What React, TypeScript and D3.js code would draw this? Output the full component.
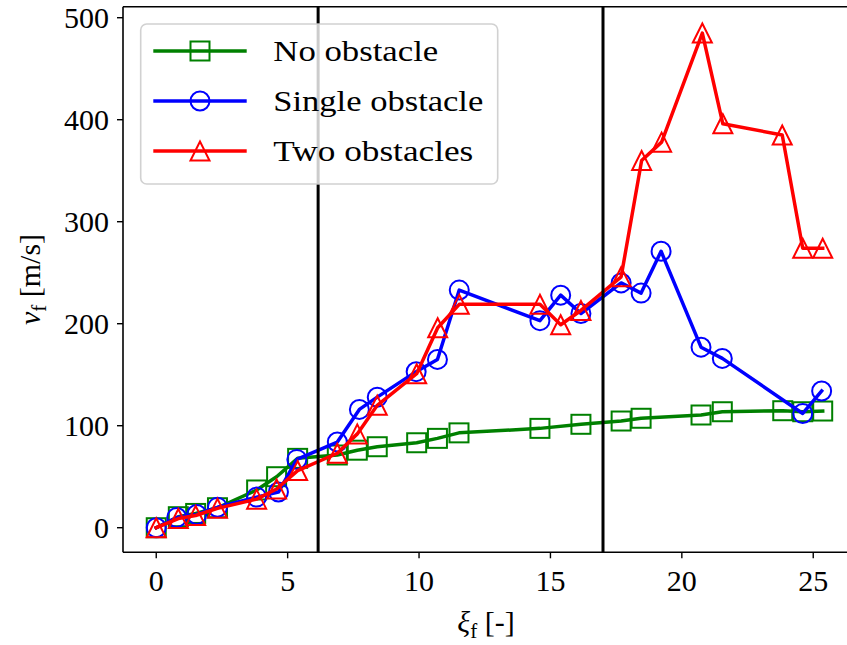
import React from "react";
import * as d3 from "d3";

const greenX = [0, 0.84, 1.5, 2.33, 3.82, 4.58, 5.38, 6.89, 7.65, 8.41, 9.91, 10.7, 11.52, 14.6, 16.16, 17.69, 18.45, 20.73, 21.54, 23.84, 24.6, 25.36];
const greenY = [0, 10.8, 14, 19.6, 37, 50, 68, 71.3, 76, 79.4, 83.3, 87.6, 93, 97.4, 101.4, 104.6, 107.3, 110.5, 113.7, 114.7, 113.7, 114.4];

const blueX = [0, 0.78, 1.54, 2.33, 3.82, 4.65, 5.35, 6.89, 7.73, 8.41, 9.89, 10.7, 11.53, 14.6, 15.39, 16.16, 17.69, 18.45, 19.21, 20.73, 21.54, 24.6, 25.32];
const blueY = [0, 10, 13, 20, 30, 35, 67, 84, 116, 128, 153, 165, 233, 203, 228, 210, 240, 230, 271, 177, 166, 112, 134];

const redX = [0, 0.84, 1.5, 2.33, 3.82, 4.58, 5.38, 6.89, 7.65, 8.41, 9.91, 10.71, 11.53, 14.6, 15.39, 16.16, 17.69, 18.47, 19.23, 20.78, 21.56, 23.82, 24.6, 25.36];
const redY = [0, 9, 12, 19, 28, 38, 56, 73, 92, 120, 151, 196, 219, 219, 199, 213, 246, 360, 378, 485, 396, 385, 274, 274];

const xTicks = [0, 5, 10, 15, 20, 25];
const yTicks = [0, 100, 200, 300, 400, 500];
const vLines = [6.16, 17.0];

const seriesNames = ["No obstacle", "Single obstacle", "Two obstacles"];
const seriesColors = ["#008000", "#0000ff", "#ff0000"];
const seriesMarkers = ["square", "circle", "triangle"];
const legendTextLen = [165, 210, 200];

const W = 847;
const H = 645;
const L = 123, R = 854.5, T = 6.7, B = 552.3;
const FONT = "'Liberation Serif', 'DejaVu Serif', serif";

const x = d3.scaleLinear().domain([-1.265, 26.57]).range([L, R]);
const y = d3.scaleLinear().domain([-24.1, 510.8]).range([B, T]);

const MS = 19;

function Marker({ kind, cx, cy, color }: { kind: string; cx: number; cy: number; color: string }) {
  const h = MS / 2;
  if (kind === "square")
    return <rect x={cx - h} y={cy - h} width={MS} height={MS} fill="none" stroke={color} strokeWidth={2} />;
  if (kind === "circle") return <circle cx={cx} cy={cy} r={h} fill="none" stroke={color} strokeWidth={2} />;
  return (
    <path
      d={`M${cx},${cy - h}L${cx - h},${cy + h}L${cx + h},${cy + h}Z`}
      fill="none"
      stroke={color}
      strokeWidth={2}
      strokeLinejoin="miter"
    />
  );
}

export default function App() {
  const series = [
    { xs: greenX, ys: greenY },
    { xs: blueX, ys: blueY },
    { xs: redX, ys: redY },
  ];
  const line = d3
    .line<[number, number]>()
    .x((d) => x(d[0]))
    .y((d) => y(d[1]));

  return (
    <svg
      width={W}
      height={H}
      style={{ position: "absolute", left: 0, top: 0, background: "#fff" }}
      fontFamily={FONT}
    >
      <rect x={0} y={0} width={W} height={H} fill="#fff" />
      <defs>
        <clipPath id="plotclip">
          <rect x={L} y={T} width={R - L} height={B - T} />
        </clipPath>
      </defs>
      <g clipPath="url(#plotclip)">
        {series.map((s, i) => {
          const pts = s.xs.map((v, j) => [v, s.ys[j]] as [number, number]);
          return (
            <g key={i}>
              <path d={line(pts) || ""} fill="none" stroke={seriesColors[i]} strokeWidth={3.5} strokeLinejoin="round" strokeLinecap="square" />
              {pts.map((p, j) => (
                <Marker key={j} kind={seriesMarkers[i]} cx={x(p[0])} cy={y(p[1])} color={seriesColors[i]} />
              ))}
            </g>
          );
        })}
        {vLines.map((v, i) => (
          <line key={i} x1={x(v)} x2={x(v)} y1={T} y2={B} stroke="#000" strokeWidth={3} />
        ))}
      </g>
      {/* axes spines */}
      <line x1={L} x2={L} y1={T} y2={B} stroke="#000" strokeWidth={1.6} />
      <line x1={L} x2={R} y1={B} y2={B} stroke="#000" strokeWidth={1.6} />
      <line x1={L} x2={R} y1={T} y2={T} stroke="#000" strokeWidth={1.6} />
      <line x1={R} x2={R} y1={T} y2={B} stroke="#000" strokeWidth={1.6} />
      {/* x ticks */}
      {xTicks.map((t) => (
        <g key={t}>
          <line x1={x(t)} x2={x(t)} y1={B} y2={B + 6} stroke="#000" strokeWidth={1.4} />
          <text x={x(t)} y={B + 39} textAnchor="middle" fontSize={30} fill="#000">
            {t}
          </text>
        </g>
      ))}
      {/* y ticks */}
      {yTicks.map((t) => (
        <g key={t}>
          <line x1={L - 6} x2={L} y1={y(t)} y2={y(t)} stroke="#000" strokeWidth={1.4} />
          <text x={L - 14} y={y(t) + 10} textAnchor="end" fontSize={30} fill="#000">
            {t}
          </text>
        </g>
      ))}
      {/* axis labels */}
      <text x={486} y={632} textAnchor="middle" fontSize={30} fill="#000">
        <tspan fontStyle="italic">ξ</tspan>
        <tspan fontSize={21} dy={6}>f</tspan>
        <tspan dy={-6}> [-]</tspan>
      </text>
      <text transform={`translate(40,${(T + B) / 2}) rotate(-90)`} textAnchor="middle" fontSize={30} fill="#000">
        <tspan fontStyle="italic">v</tspan>
        <tspan fontSize={21} dy={6}>f</tspan>
        <tspan dy={-6}> [m/s]</tspan>
      </text>
      {/* legend */}
      <g>
        <rect x={140.7} y={24} width={357} height={160} rx={6} ry={6} fill="#fff" fillOpacity={0.8} stroke="#cccccc" strokeOpacity={0.9} strokeWidth={1.6} />
        {seriesNames.map((name, i) => {
          const ly = 51 + i * 50;
          return (
            <g key={name}>
              <line x1={153.3} x2={246.7} y1={ly} y2={ly} stroke={seriesColors[i]} strokeWidth={3.5} />
              <Marker kind={seriesMarkers[i]} cx={200} cy={ly} color={seriesColors[i]} />
              <text x={273.3} y={ly + 10} fontSize={30} fill="#000" textLength={legendTextLen[i]} lengthAdjust="spacingAndGlyphs">
                {name}
              </text>
            </g>
          );
        })}
      </g>
    </svg>
  );
}
